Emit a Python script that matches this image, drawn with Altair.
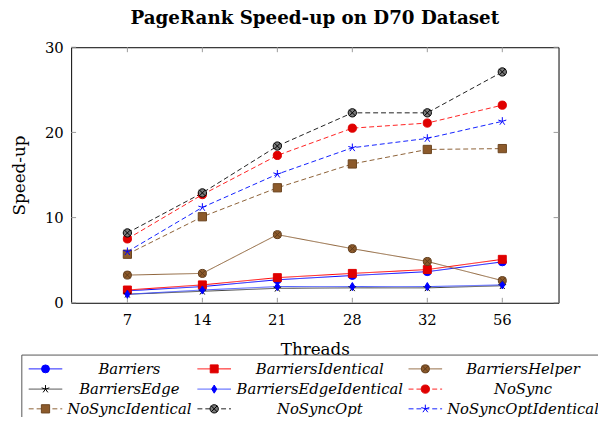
import altair as alt
import pandas as pd

# ---------------- data ----------------
threads = ["7", "14", "21", "28", "32", "56"]
series_names = ["Barriers", "BarriersIdentical", "BarriersHelper",
                "BarriersEdge", "BarriersEdgeIdentical", "NoSync",
                "NoSyncIdentical", "NoSyncOpt", "NoSyncOptIdentical"]
barriers = [1.4, 1.9, 2.7, 3.2, 3.65, 4.8]
barriers_identical = [1.5, 2.1, 2.95, 3.45, 3.9, 5.1]
barriers_helper = [3.25, 3.45, 8.0, 6.35, 4.85, 2.6]
barriers_edge = [1.0, 1.35, 1.7, 1.75, 1.75, 2.0]
barriers_edge_identical = [1.0, 1.5, 1.9, 1.9, 1.9, 2.1]
no_sync = [7.5, 12.7, 17.3, 20.5, 21.1, 23.2]
no_sync_identical = [5.7, 10.1, 13.5, 16.3, 18.0, 18.1]
no_sync_opt = [8.2, 12.9, 18.4, 22.3, 22.3, 27.1]
no_sync_opt_identical = [6.0, 11.2, 15.1, 18.2, 19.3, 21.3]
y_ticks = [0, 10, 20, 30]

series_values = [barriers, barriers_identical, barriers_helper, barriers_edge,
                 barriers_edge_identical, no_sync, no_sync_identical,
                 no_sync_opt, no_sync_opt_identical]
series_dash = ["solid"] * 5 + ["dashed"] * 4

rows = []
for name, vals, d in zip(series_names, series_values, series_dash):
    for t, v in zip(threads, vals):
        rows.append({"threads": t, "series": name, "speedup": v, "dash": d})
df = pd.DataFrame(rows)

leg = pd.DataFrame({"series": series_names,
                    "col": [i % 3 for i in range(9)],
                    "row": [i // 3 for i in range(9)],
                    "dash": series_dash})
crossed = ["BarriersHelper", "NoSyncOpt"]

# ---------------- styles ----------------
SERIF = "DejaVu Serif"
line_colors = ["#0000ff", "#ff0000", "#8b6035", "#404040", "#4050ff",
               "#ff2020", "#8b6035", "#202020", "#1020ff"]
STAR = "M0,0L0,-1M0,0L0.951,-0.309M0,0L0.588,0.809M0,0L-0.588,0.809M0,0L-0.951,-0.309"
DIAM = "M0,-1L0.62,0L0,1L-0.62,0Z"
XPATH = "M-0.707,-0.707L0.707,0.707M-0.707,0.707L0.707,-0.707"
marker_shapes = ["circle", "square", "circle", STAR, DIAM,
                 "circle", "square", "circle", STAR]
marker_fill = ["#0000ff", "#e00000", "#8c5a2b", "#000000", "#0000ff",
               "#e00000", "#8c5a2b", "#7a7a7a", "#0000ff"]
marker_stroke = ["#0000ff", "#e00000", "#5e3b1a", "#000000", "#0000ff",
                 "#e00000", "#6b4420", "#000000", "#0000ff"]
marker_size = [64, 72, 72, 40, 64, 80, 80, 80, 64]

W, H = 494, 259
x_scale = alt.Scale(domain=threads, padding=0.5)
y_scale = alt.Scale(domain=[0, 30])
x_axis = alt.Axis(title="Threads", labelAngle=0, labelPadding=10, titlePadding=14)
y_axis = alt.Axis(title="Speed-up", values=y_ticks, labelPadding=8, titlePadding=16)
color_s = alt.Color("series:N", scale=alt.Scale(domain=series_names, range=line_colors), legend=None)
dash_s = alt.StrokeDash("dash:N", scale=alt.Scale(domain=["solid", "dashed"], range=[[1, 0], [5, 3]]), legend=None)
fill_s = alt.Fill("series:N", scale=alt.Scale(domain=series_names, range=marker_fill), legend=None)
stroke_s = alt.Stroke("series:N", scale=alt.Scale(domain=series_names, range=marker_stroke), legend=None)
shape_s = alt.Shape("series:N", scale=alt.Scale(domain=series_names, range=marker_shapes), legend=None)
size_s = alt.Size("series:N", scale=alt.Scale(domain=series_names, range=marker_size), legend=None)


def xenc():
    return alt.X("threads:O", sort=threads, scale=x_scale, axis=x_axis)


def yenc():
    return alt.Y("speedup:Q", scale=y_scale, axis=y_axis)


# inward ticks
tick_col = "#9a9a9a"
xt = pd.DataFrame({"threads": threads})
yt = pd.DataFrame({"speedup": y_ticks})
xtick_b = alt.Chart(xt).mark_rule(color=tick_col).encode(
    x=xenc(), y=alt.value(H), y2=alt.value(H - 5))
xtick_t = alt.Chart(xt).mark_rule(color=tick_col).encode(
    x=xenc(), y=alt.value(0), y2=alt.value(5))
ytick_l = alt.Chart(yt).mark_rule(color=tick_col).encode(
    y=yenc(), x=alt.value(0), x2=alt.value(5))
ytick_r = alt.Chart(yt).mark_rule(color=tick_col).encode(
    y=yenc(), x=alt.value(W - 5), x2=alt.value(W))

lines = alt.Chart(df).mark_line(strokeWidth=1).encode(
    x=xenc(), y=yenc(), color=color_s, strokeDash=dash_s, detail="series:N")
points = alt.Chart(df).mark_point(opacity=1, strokeWidth=1).encode(
    x=xenc(), y=yenc(), fill=fill_s, stroke=stroke_s, shape=shape_s, size=size_s)
xover = alt.Chart(df).transform_filter(
    alt.FieldOneOfPredicate(field="series", oneOf=crossed)
).mark_point(opacity=1, strokeWidth=1, shape=XPATH, size=80, fill="transparent").encode(
    x=xenc(), y=yenc(), stroke=stroke_s)

# ---------------- legend (drawn in pixel space below the plot) ----------------
sym_x = [-26, 145, 359]
txt_x = [59, 252, 458]
row_y = [326, 346.5, 366.5]
half = 17
legb = alt.Chart(leg).transform_calculate(
    sx=f"{sym_x}[datum.col]",
    lx1=f"{sym_x}[datum.col] - {half}",
    lx2=f"{sym_x}[datum.col] + {half}",
    tx=f"{txt_x}[datum.col]",
    py=f"{row_y}[datum.row]",
)
pix = dict(scale=None, axis=None)
leg_lines = legb.mark_rule(strokeWidth=1).encode(
    x=alt.X("lx1:Q", **pix), x2="lx2:Q", y=alt.Y("py:Q", **pix),
    color=color_s, strokeDash=dash_s)
leg_pts = legb.mark_point(opacity=1, strokeWidth=1).encode(
    x=alt.X("sx:Q", **pix), y=alt.Y("py:Q", **pix),
    fill=fill_s, stroke=stroke_s, shape=shape_s, size=size_s)
leg_x = legb.transform_filter(
    alt.FieldOneOfPredicate(field="series", oneOf=crossed)
).mark_point(opacity=1, strokeWidth=1, shape=XPATH, size=80, fill="transparent").encode(
    x=alt.X("sx:Q", **pix), y=alt.Y("py:Q", **pix), stroke=stroke_s)
leg_txt = legb.mark_text(font=SERIF, fontStyle="italic", fontSize=15, color="black",
                         align="center", baseline="middle").encode(
    x=alt.X("tx:Q", **pix), y=alt.Y("py:Q", **pix), text="series:N")
box_top = alt.Chart(leg.head(1)).mark_rule(color="#555555", strokeWidth=1).encode(
    x=alt.value(-50), x2=alt.value(W + 60), y=alt.value(312))
box_left = alt.Chart(leg.head(1)).mark_rule(color="#555555", strokeWidth=1).encode(
    x=alt.value(-50), y=alt.value(312), y2=alt.value(H + 140))

chart = alt.layer(
    lines, xtick_b, xtick_t, ytick_l, ytick_r, points, xover,
    box_top, box_left, leg_lines, leg_pts, leg_x, leg_txt
).properties(
    width=W, height=H,
    background="white",
    autosize=alt.AutoSizeParams(type="none"),
    padding={"left": 64, "top": 37, "right": 598 - 64 - W, "bottom": 409 - 37 - H},
    title=alt.Title("PageRank Speed-up on D70 Dataset", font=SERIF, fontSize=18.5,
                    fontWeight="bold", color="black", anchor="middle", offset=13),
).configure_view(stroke="black", strokeWidth=1).configure_axis(
    labelFont=SERIF, labelFontSize=15, labelColor="black",
    titleFont=SERIF, titleFontSize=17, titleFontWeight="normal", titleColor="black",
    grid=False, domain=False, ticks=False, tickSize=0,
)

chart.save("out.html", embed_options={"renderer": "svg", "actions": False})
